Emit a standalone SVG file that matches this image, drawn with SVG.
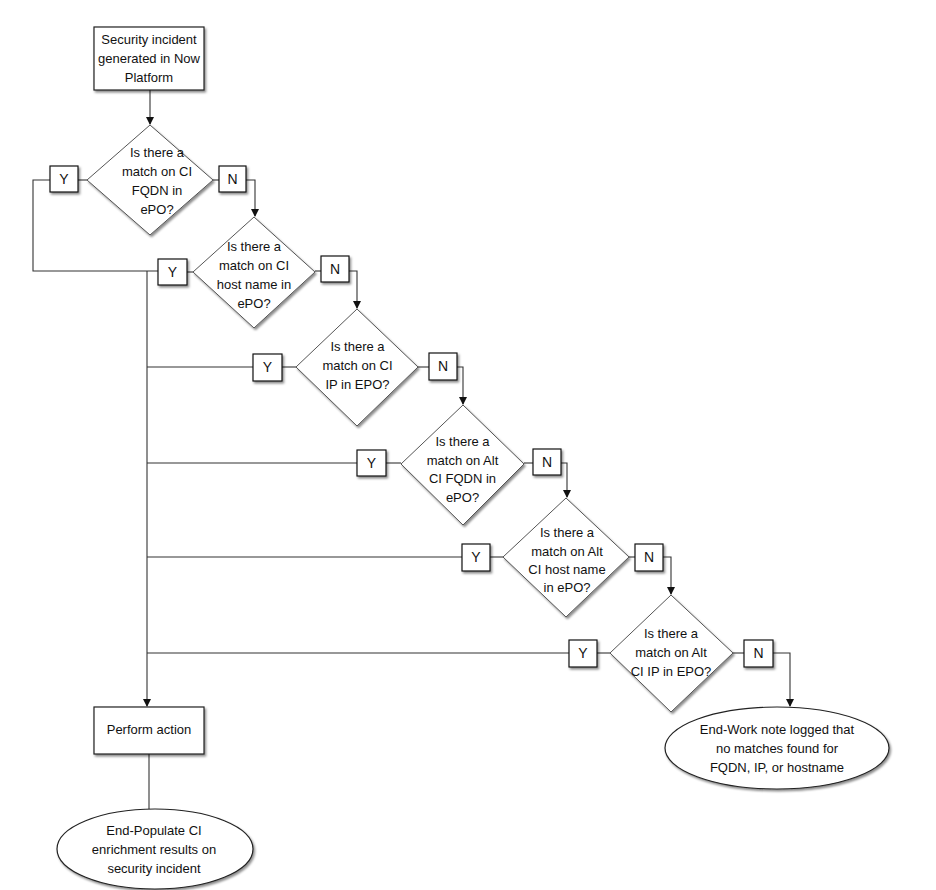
<svg xmlns="http://www.w3.org/2000/svg" width="936" height="890" viewBox="0 0 936 890">
<style>
.shape{fill:#ffffff;stroke:#222;stroke-width:1.2;filter:url(#sh)}
.dia{fill:#ffffff;stroke:#555;stroke-width:1;filter:url(#sh)}
.lbl{fill:#ffffff;stroke:#111;stroke-width:1.2;filter:url(#sh)}
text{font-family:"Liberation Sans",Arial,sans-serif;font-size:13px;fill:#111;text-anchor:middle;dominant-baseline:central}
.yn{font-size:14px}
.con{fill:none;stroke:#333;stroke-width:1.1}
</style>
<defs>
<filter id="sh" x="-20%" y="-20%" width="140%" height="140%">
<feDropShadow dx="1.5" dy="2" stdDeviation="1.2" flood-color="#000" flood-opacity="0.45"/>
</filter>
<marker id="arr" markerWidth="8" markerHeight="8" refX="7" refY="4" orient="auto" markerUnits="userSpaceOnUse">
<path d="M0,0 L8,4 L0,8 Z" fill="#111"/>
</marker>
</defs>
<rect width="936" height="890" fill="#ffffff"/>

<g id="connectors">
<path class="con" d="M150,90 V124" marker-end="url(#arr)"/>
<path class="con" d="M87,180 H78"/>
<path class="con" d="M50,180 H33 V271 H158"/>
<path class="con" d="M147,271 V706" marker-end="url(#arr)"/>
<path class="con" d="M187,272 H193"/>
<path class="con" d="M213,180 H219"/>
<path class="con" d="M246,180 H255 V216" marker-end="url(#arr)"/>
<path class="con" d="M315,271 H321"/>
<path class="con" d="M349,271 H357 V308" marker-end="url(#arr)"/>
<path class="con" d="M147,367 H253"/>
<path class="con" d="M282,367 H296"/>
<path class="con" d="M418,367 H429"/>
<path class="con" d="M457,367 H463 V404" marker-end="url(#arr)"/>
<path class="con" d="M147,463 H357"/>
<path class="con" d="M386,463 H401"/>
<path class="con" d="M524,463 H533"/>
<path class="con" d="M561,463 H567 V497" marker-end="url(#arr)"/>
<path class="con" d="M147,557 H462"/>
<path class="con" d="M490,557 H503"/>
<path class="con" d="M629,557 H635"/>
<path class="con" d="M663,557 H671 V594" marker-end="url(#arr)"/>
<path class="con" d="M147,653 H569"/>
<path class="con" d="M597,653 H610"/>
<path class="con" d="M733,653 H744"/>
<path class="con" d="M773,653 H790 V706" marker-end="url(#arr)"/>
<path class="con" d="M149,754 V809"/>
</g>

<g id="start">
<rect class="shape" x="94" y="27" width="110" height="63"/>
<text x="149" y="39">Security incident</text>
<text x="149" y="58">generated in Now</text>
<text x="149" y="77">Platform</text>
</g>

<g id="d1">
<polygon class="dia" points="150,125 213,180 150,235 87,180"/>
<text x="157" y="152">Is there a</text>
<text x="157" y="171">match on CI</text>
<text x="157" y="190">FQDN in</text>
<text x="157" y="209">ePO?</text>
</g>
<g id="y1"><rect class="lbl" x="50" y="166" width="28" height="26"/><text class="yn" x="64" y="179">Y</text></g>
<g id="n1"><rect class="lbl" x="219" y="166" width="27" height="26"/><text class="yn" x="232.5" y="179">N</text></g>

<g id="d2">
<polygon class="dia" points="254,217 315,272 254,328 193,272"/>
<text x="254" y="246">Is there a</text>
<text x="254" y="265">match on CI</text>
<text x="254" y="284">host name in</text>
<text x="254" y="303">ePO?</text>
</g>
<g id="y2"><rect class="lbl" x="158" y="259" width="29" height="26"/><text class="yn" x="172.5" y="272">Y</text></g>
<g id="n2"><rect class="lbl" x="321" y="256" width="28" height="26"/><text class="yn" x="335" y="269">N</text></g>

<g id="d3">
<polygon class="dia" points="357,309 418,367 357,426 296,367"/>
<text x="357.5" y="346">Is there a</text>
<text x="357.5" y="365">match on CI</text>
<text x="357.5" y="384">IP in EPO?</text>
</g>
<g id="y3"><rect class="lbl" x="253" y="354" width="29" height="27"/><text class="yn" x="267.5" y="367">Y</text></g>
<g id="n3"><rect class="lbl" x="429" y="353" width="28" height="27"/><text class="yn" x="443" y="366">N</text></g>

<g id="d4">
<polygon class="dia" points="463,405 524,464 463,525 401,464"/>
<text x="462.5" y="441">Is there a</text>
<text x="462.5" y="460">match on Alt</text>
<text x="462.5" y="478">CI FQDN in</text>
<text x="462.5" y="497">ePO?</text>
</g>
<g id="y4"><rect class="lbl" x="357" y="450" width="29" height="26"/><text class="yn" x="371.5" y="463">Y</text></g>
<g id="n4"><rect class="lbl" x="533" y="449" width="28" height="26"/><text class="yn" x="547" y="462">N</text></g>

<g id="d5">
<polygon class="dia" points="566,498 629,557 566,617 503,557"/>
<text x="567" y="532">Is there a</text>
<text x="567" y="551">match on Alt</text>
<text x="567" y="569">CI host name</text>
<text x="567" y="587">in ePO?</text>
</g>
<g id="y5"><rect class="lbl" x="462" y="544" width="28" height="27"/><text class="yn" x="476" y="557">Y</text></g>
<g id="n5"><rect class="lbl" x="635" y="544" width="28" height="27"/><text class="yn" x="649" y="557">N</text></g>

<g id="d6">
<polygon class="dia" points="671,595 733,653 671,712 610,653"/>
<text x="671" y="633">Is there a</text>
<text x="671" y="652">match on Alt</text>
<text x="671" y="671">CI IP in EPO?</text>
</g>
<g id="y6"><rect class="lbl" x="569" y="640" width="28" height="27"/><text class="yn" x="583" y="653">Y</text></g>
<g id="n6"><rect class="lbl" x="744" y="640" width="29" height="27"/><text class="yn" x="758.5" y="653">N</text></g>

<g id="endno">
<ellipse class="shape" cx="777" cy="748" rx="112" ry="41"/>
<text x="777" y="729">End-Work note logged that</text>
<text x="777" y="748">no matches found for</text>
<text x="777" y="767">FQDN, IP, or hostname</text>
</g>

<g id="action">
<rect class="shape" x="94" y="707" width="110" height="47"/>
<text x="149" y="729">Perform action</text>
</g>

<g id="endyes">
<ellipse class="shape" cx="155" cy="849" rx="98" ry="40"/>
<text x="154" y="830">End-Populate CI</text>
<text x="154" y="849">enrichment results on</text>
<text x="154" y="868">security incident</text>
</g>
</svg>
